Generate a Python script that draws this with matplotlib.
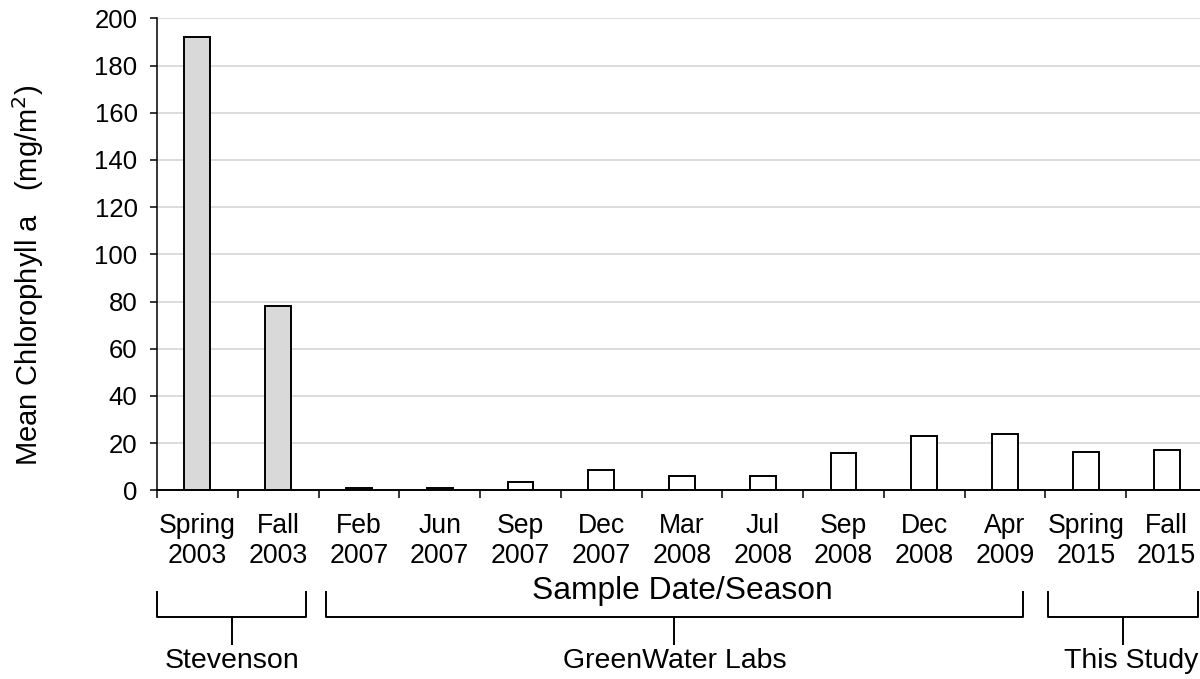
import matplotlib
matplotlib.use("Agg")
import matplotlib.pyplot as plt
from matplotlib.transforms import blended_transform_factory

plt.rcParams["font.family"] = ["Liberation Sans", "DejaVu Sans"]

# Sampling events and mean chlorophyll a (mg/m^2)
seasons = ["Spring", "Fall", "Feb", "Jun", "Sep", "Dec", "Mar", "Jul",
           "Sep", "Dec", "Apr", "Spring", "Fall"]
years = ["2003", "2003", "2007", "2007", "2007", "2007", "2008", "2008",
         "2008", "2008", "2009", "2015", "2015"]
chl_a = [192, 78, 1.1, 0.8, 3.4, 8.6, 6.0, 6.0, 15.7, 23.1, 23.7, 16.4, 17.0]
sources = ["Stevenson", "Stevenson",
           "GreenWater Labs", "GreenWater Labs", "GreenWater Labs",
           "GreenWater Labs", "GreenWater Labs", "GreenWater Labs",
           "GreenWater Labs", "GreenWater Labs", "GreenWater Labs",
           "This Study", "This Study"]
y_ticks = list(range(0, 201, 20))

# Bracket spans for each data source (in category units)
groups = ["Stevenson", "GreenWater Labs", "This Study"]
group_spans = [(-0.5, 1.35), (1.59, 10.22), (10.53, 12.39)]
label_shift = [0.0, 0.0, 0.1]

W, H = 1200, 679
fig = plt.figure(figsize=(W / 100, H / 100), dpi=100)
ax = fig.add_axes([157 / W, 1 - 490.3 / H, 1050 / W, (490.3 - 18.3) / H])

x = list(range(len(chl_a)))
colors = ["#d9d9d9" if s == "Stevenson" else "white" for s in sources]
ax.bar(x, chl_a, width=0.32, color=colors, edgecolor="black",
       linewidth=1.4, zorder=3)

ax.set_xlim(-0.5, len(chl_a) - 0.5)
ax.set_ylim(0, 200)
ax.set_yticks(y_ticks)
ax.tick_params(axis="y", labelsize=18.5, length=5, width=1.1,
               direction="out", pad=9)
ax.yaxis.grid(True, color="#d9d9d9", linewidth=1.3, zorder=0)
ax.set_axisbelow(True)

# Category boundaries as major ticks, labels centred on the bars
ax.set_xticks([i - 0.5 for i in range(len(chl_a) + 1)])
ax.set_xticklabels([])
ax.set_xticks(x, minor=True)
ax.set_xticklabels([f"{s}\n{y}" for s, y in zip(seasons, years)],
                   minor=True, fontsize=19.2)
ax.tick_params(axis="x", which="major", length=6, width=1.1,
               direction="out")
ax.tick_params(axis="x", which="minor", length=0, pad=16)

for side in ("top", "right"):
    ax.spines[side].set_visible(False)
ax.spines["left"].set_linewidth(1.1)
ax.spines["bottom"].set_linewidth(1.4)
ax.spines["bottom"].set_zorder(4)

fig.text(28 / W, 1 - 275 / H, "Mean Chlorophyll a   (mg/m$^2$)",
         fontsize=21, rotation=90, ha="center", va="center")

fig.text(ax.get_position().x0 + ax.get_position().width / 2, 1 - 591 / H,
         "Sample Date/Season", fontsize=22.9, ha="center", va="center")

# Source brackets beneath the axis
tr = blended_transform_factory(ax.transData, fig.transFigure)
y_top, y_bar, y_stem = 1 - 591.7 / H, 1 - 617.3 / H, 1 - 644 / H
for name, (x0, x1), dx in zip(groups, group_spans, label_shift):
    xm = (x0 + x1) / 2
    fig.add_artist(plt.Line2D([x0, x0, x1, x1], [y_top, y_bar, y_bar, y_top],
                              transform=tr, color="black", linewidth=1.4))
    fig.add_artist(plt.Line2D([xm, xm], [y_bar, y_stem],
                              transform=tr, color="black", linewidth=1.4))
    fig.text(xm + dx, 1 - 668 / H, name, transform=tr, fontsize=20.5,
             ha="center", va="baseline")

fig.savefig("out.png", dpi=100)
